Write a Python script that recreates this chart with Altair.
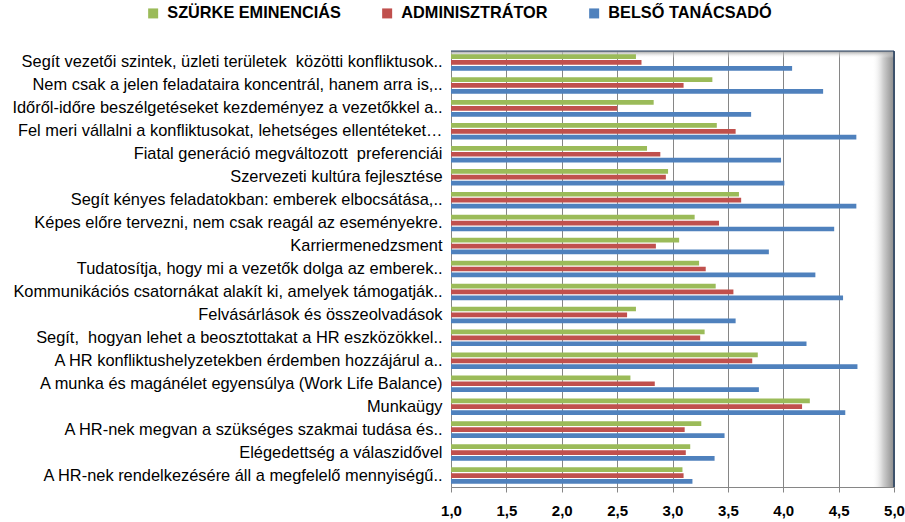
import altair as alt
import pandas as pd

categories = [
    "Segít vezetői szintek, üzleti területek\u00a0 közötti konfliktusok..",
    "Nem csak a jelen feladataira koncentrál, hanem arra is,..",
    "Időről-időre beszélgetéseket kezdeményez a vezetőkkel a..",
    "Fel meri vállalni a konfliktusokat, lehetséges ellentéteket…\u00a0",
    "Fiatal generáció megváltozott\u00a0 preferenciái\u00a0",
    "Szervezeti kultúra fejlesztése\u00a0",
    "Segít kényes feladatokban: emberek elbocsátása,..",
    "Képes előre tervezni, nem csak reagál az eseményekre.\u00a0",
    "Karriermenedzsment\u00a0",
    "Tudatosítja, hogy mi a vezetők dolga az emberek..",
    "Kommunikációs csatornákat alakít ki, amelyek támogatják..",
    "Felvásárlások és összeolvadások\u00a0",
    "Segít,\u00a0 hogyan lehet a beosztottakat a HR eszközökkel..",
    "A HR konfliktushelyzetekben érdemben hozzájárul a..",
    "A munka és magánélet egyensúlya (Work Life Balance)\u00a0",
    "Munkaügy\u00a0",
    "A HR-nek megvan a szükséges szakmai tudása és..",
    "Elégedettség a válaszidővel\u00a0",
    "A HR-nek rendelkezésére áll a megfelelő mennyiségű..",
]

series = ["SZÜRKE EMINENCIÁS", "ADMINISZTRÁTOR", "BELSŐ TANÁCSADÓ"]
colors = ["#9BBB59", "#C0504D", "#4F81BD"]

green = [2.67, 3.36, 2.83, 3.40, 2.77, 2.96, 3.60, 3.20, 3.06, 3.24, 3.39, 2.67, 3.29, 3.77, 2.62, 4.24, 3.26, 3.16, 3.09]
red = [2.72, 3.10, 2.50, 3.57, 2.89, 2.94, 3.62, 3.42, 2.85, 3.30, 3.55, 2.59, 3.25, 3.72, 2.84, 4.17, 3.11, 3.12, 3.10]
blue = [4.08, 4.36, 3.71, 4.66, 3.98, 4.01, 4.66, 4.46, 3.87, 4.29, 4.54, 3.57, 4.21, 4.67, 3.78, 4.56, 3.47, 3.38, 3.18]

ticks = [1.0, 1.5, 2.0, 2.5, 3.0, 3.5, 4.0, 4.5, 5.0]

rows = []
for vals, s in zip([green, red, blue], series):
    for c, v in zip(categories, vals):
        rows.append({"cat": c, "series": s, "value": v})
df = pd.DataFrame(rows)

W, H = 443, 436

bars = alt.Chart(df).mark_bar(cornerRadius=0).encode(
    y=alt.Y("cat:N", sort=categories,
            scale=alt.Scale(paddingInner=0.28, paddingOuter=0.14),
            axis=alt.Axis(title=None, labelLimit=0, ticks=False, domain=True,
                          domainColor="#868686", labelPadding=9,
                          labelFont="Liberation Sans", labelFontSize=16.4,
                          labelColor="#000000")),
    yOffset=alt.YOffset("series:N", sort=series,
                        scale=alt.Scale(paddingInner=0.2)),
    x=alt.X("value:Q", scale=alt.Scale(domain=[1, 5], nice=False, zero=False),
            axis=alt.Axis(title=None, values=ticks, grid=True, gridColor="#868686",
                          gridWidth=1, domainColor="#868686", tickColor="#868686",
                          tickSize=5, labelPadding=11, labelFlush=False,
                          labelOverlap=False,
                          labelExpr="replace(format(datum.value, '.1f'), '.', ',')",
                          labelFont="Liberation Sans", labelFontWeight="bold",
                          labelFontSize=15, labelColor="#000000")),
    x2=alt.datum(1),
    color=alt.Color("series:N", sort=series,
                    scale=alt.Scale(domain=series, range=colors),
                    legend=alt.Legend(title=None, orient="none", direction="horizontal",
                                      legendX=-306, legendY=-46, columns=3,
                                      symbolType="square", symbolSize=100,
                                      symbolStrokeWidth=0, columnPadding=38,
                                      labelLimit=0,
                                      labelFont="Liberation Sans", labelFontWeight="bold",
                                      labelFontSize=16.3, labelColor="#000000",
                                      labelOffset=6)),
)

one = alt.Data(values=[{"a": 1}])

right_shadow = alt.Chart(one).mark_rect(
    color=alt.Gradient(gradient="linear",
                       stops=[alt.GradientStop(color="rgba(255,255,255,0)", offset=0),
                              alt.GradientStop(color="#d0d0d0", offset=0.5),
                              alt.GradientStop(color="#8c8c8c", offset=1)],
                       x1=0, x2=1, y1=0, y2=0)
).encode(x=alt.value(W - 22), x2=alt.value(W), y=alt.value(0), y2=alt.value(H))

top_shadow = alt.Chart(one).mark_rect(
    color=alt.Gradient(gradient="linear",
                       stops=[alt.GradientStop(color="#9a9a9a", offset=0),
                              alt.GradientStop(color="rgba(255,255,255,0)", offset=1)],
                       x1=0, x2=0, y1=0, y2=1)
).encode(x=alt.value(0), x2=alt.value(W), y=alt.value(0), y2=alt.value(7))

border = alt.Chart(one).mark_rule(color="#243F60", strokeWidth=1.5).encode(
    x=alt.value(W), y=alt.value(0), y2=alt.value(H))
border_top = alt.Chart(one).mark_rule(color="#243F60", strokeWidth=1).encode(
    x=alt.value(0), x2=alt.value(W), y=alt.value(0))

chart = alt.layer(right_shadow, top_shadow, bars, border, border_top).properties(
    width=W, height=H,
    autosize=alt.AutoSizeParams(type="none"),
    padding={"left": 451, "top": 51, "right": 11, "bottom": 35},
).configure_view(stroke=None).configure(background="white")

chart.save("out.html", embed_options={"renderer": "svg", "actions": False})
